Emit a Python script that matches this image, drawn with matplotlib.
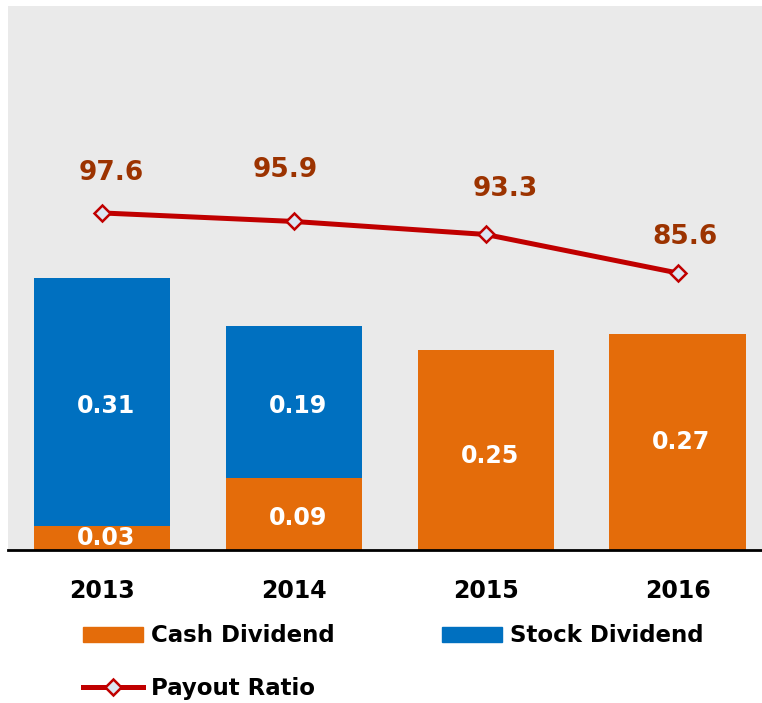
import matplotlib
matplotlib.use("Agg")
import matplotlib.pyplot as plt
from matplotlib.patches import Patch
from matplotlib.lines import Line2D
import numpy as np

years = ["2013", "2014", "2015", "2016"]
cash_dividend = [0.03, 0.09, 0.25, 0.27]
stock_dividend = [0.31, 0.19, 0.0, 0.0]
payout_ratio = [97.6, 95.9, 93.3, 85.6]

# label offsets (points) for payout labels - styling
payout_offsets = [(7, 29), (-6, 37), (14, 33), (5, 26)]
# vertical nudges (data units) for cash labels - styling
cash_nudge = [0.0, -0.005, -0.007, 0.0]

ORANGE = "#E46C0A"
BLUE = "#0070C0"
RED = "#C00000"
BROWN = "#9C3300"
BG = "#EAEAEA"

plt.rcParams["font.family"] = ["DejaVu Sans"]
fig = plt.figure(figsize=(7.62, 7.03), dpi=100)
ax = fig.add_axes([0.0105, 0.2176, 0.9895, 0.774])
ax.set_facecolor(BG)
x = np.arange(len(years))
w = 0.71
ax.bar(x, cash_dividend, w, color=ORANGE, zorder=2)
ax.bar(x, stock_dividend, w, bottom=cash_dividend, color=BLUE, zorder=2)
ax.set_xlim(-0.49, 3.44)
ax.set_ylim(0, 0.68)
for s in ["top", "left", "right"]:
    ax.spines[s].set_visible(False)
ax.spines["bottom"].set_linewidth(2)
ax.spines["bottom"].set_color("black")
ax.spines["bottom"].set_zorder(5)
ax.set_yticks([])
ax.set_xticks(x)
ax.set_xticklabels(years, fontsize=17, fontweight="bold")
ax.tick_params(axis="x", length=0, pad=21)

for i in range(len(years)):
    c = cash_dividend[i]
    s = stock_dividend[i]
    ax.text(x[i] + 0.02, c / 2 + cash_nudge[i], f"{c:.2f}", ha="center", va="center",
            color="white", fontsize=17, fontweight="bold", zorder=3, clip_on=True)
    if s > 0:
        ax.text(x[i] + 0.02, c + s / 2 - 0.005, f"{s:.2f}", ha="center", va="center",
                color="white", fontsize=17, fontweight="bold", zorder=3)

ax2 = ax.twinx()
ax2.set_ylim(30.2, 139)
ax2.set_yticks([])
for s in ["top", "left", "right", "bottom"]:
    ax2.spines[s].set_visible(False)
ax2.plot(x, payout_ratio, color=RED, lw=3.6, marker="D", markersize=8,
         markerfacecolor="#DCE6F2", markeredgecolor=RED, markeredgewidth=1.8, zorder=4)
for i, v in enumerate(payout_ratio):
    ax2.annotate(f"{v:.1f}", (x[i], v), xytext=payout_offsets[i], textcoords="offset points",
                 ha="center", va="center", color=BROWN, fontsize=19, fontweight="bold")

handles = [Patch(color=ORANGE, label="Cash Dividend"),
           Line2D([], [], color=RED, lw=3.6, marker="D", markersize=8,
                  markerfacecolor="#DCE6F2", markeredgecolor=RED, markeredgewidth=1.8,
                  label="Payout Ratio"),
           Patch(color=BLUE, label="Stock Dividend")]
leg = fig.legend(handles=handles, ncol=2, loc="upper left", bbox_to_anchor=(0.097, 0.125),
                 frameon=False, prop={"size": 16.5, "weight": "bold"},
                 handlelength=2.6, handleheight=0.65, handletextpad=0.35,
                 columnspacing=4.7, labelspacing=1.3, borderaxespad=0, borderpad=0.4)

fig.savefig("out.png", dpi=100)
